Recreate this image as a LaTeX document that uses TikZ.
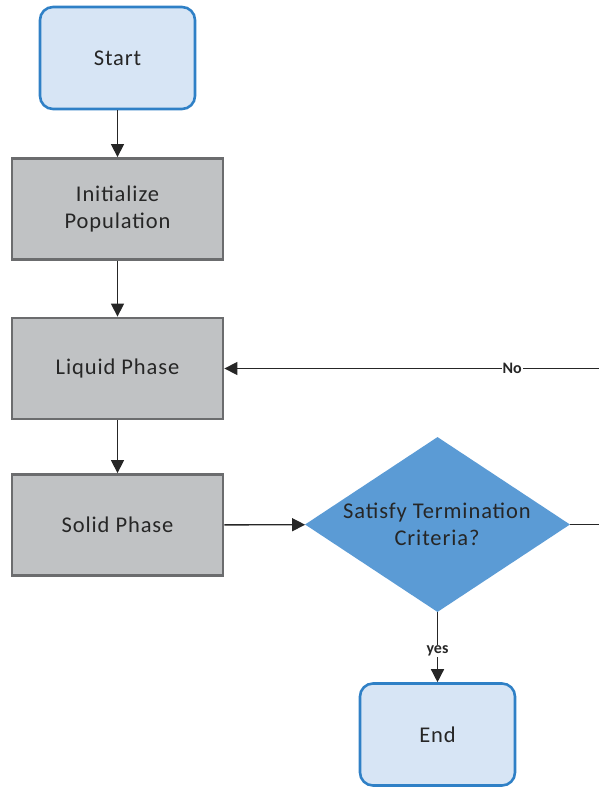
\documentclass[tikz,border=0pt]{standalone}
\usepackage{fontspec}
\setmainfont{Carlito}
\newfontfamily\boxfont[LetterSpace=4]{Carlito}
\usetikzlibrary{arrows.meta,shapes.geometric}
\definecolor{termfill}{HTML}{D7E5F5}
\definecolor{termline}{HTML}{2F80C6}
\definecolor{procfill}{HTML}{C0C2C4}
\definecolor{procline}{HTML}{6B6C6E}
\definecolor{decfill}{HTML}{5B9BD5}
\definecolor{txt}{HTML}{262626}
\begin{document}
\begin{tikzpicture}[x=1pt,y=-1pt,
  font=\boxfont\fontsize{22.5}{27}\selectfont,
  terminal/.style={draw=termline,line width=2.6pt,fill=termfill,rounded corners=13pt,
    minimum width=155pt,minimum height=102pt,text=txt,inner sep=0pt},
  process/.style={draw=procline,line width=2.8pt,fill=procfill,
    minimum width=211pt,minimum height=101pt,text=txt,align=center,inner sep=0pt},
  decision/.style={diamond,fill=decfill,minimum width=265pt,minimum height=175pt,
    aspect=1.514,inner sep=0pt,text=txt,align=center},
  flow/.style={line width=1.4pt,draw=black!85,-{Triangle[length=13pt,width=13pt]}},
  plainline/.style={line width=1.4pt,draw=black!85},
  edgelabel/.style={fill=white,inner sep=1pt,font=\fontsize{16}{18}\selectfont\bfseries,text=txt}
]
\useasboundingbox (0,0) rectangle (598,791);

\node[terminal] (start) at (117.5,58) {Start};
\node[process] (init) at (117.5,209) {Initialize\\Population};
\node[process] (liquid) at (117.5,368.5) {Liquid Phase};
\node[process] (solid) at (117.5,525) {Solid Phase};
\node[decision] (check) at (437.5,524.5) {};
\node[text=txt,align=center] (checktext) at (437,524) {Satisfy Termination\\Criteria?};
\node[terminal] (end) at (437.5,734.5) {End};

% loop-back corner sits just outside the right edge of the page
\coordinate (loopA) at (608,524.5);
\coordinate (loopB) at (608,368.5);

\draw[flow] (start) -- (init);
\draw[flow] (init) -- (liquid);
\draw[flow] (liquid) -- (solid);
\draw[flow] (solid) -- (check);
\draw[flow] (check) -- node[edgelabel,pos=0.55] (yeslabel) {yes} (end);
\draw[plainline] (check.east) -- (loopA) -- (loopB);
\draw[flow] (loopB) -- node[edgelabel,pos=0.25] (nolabel) {No} (liquid.east);
\end{tikzpicture}
\end{document}
